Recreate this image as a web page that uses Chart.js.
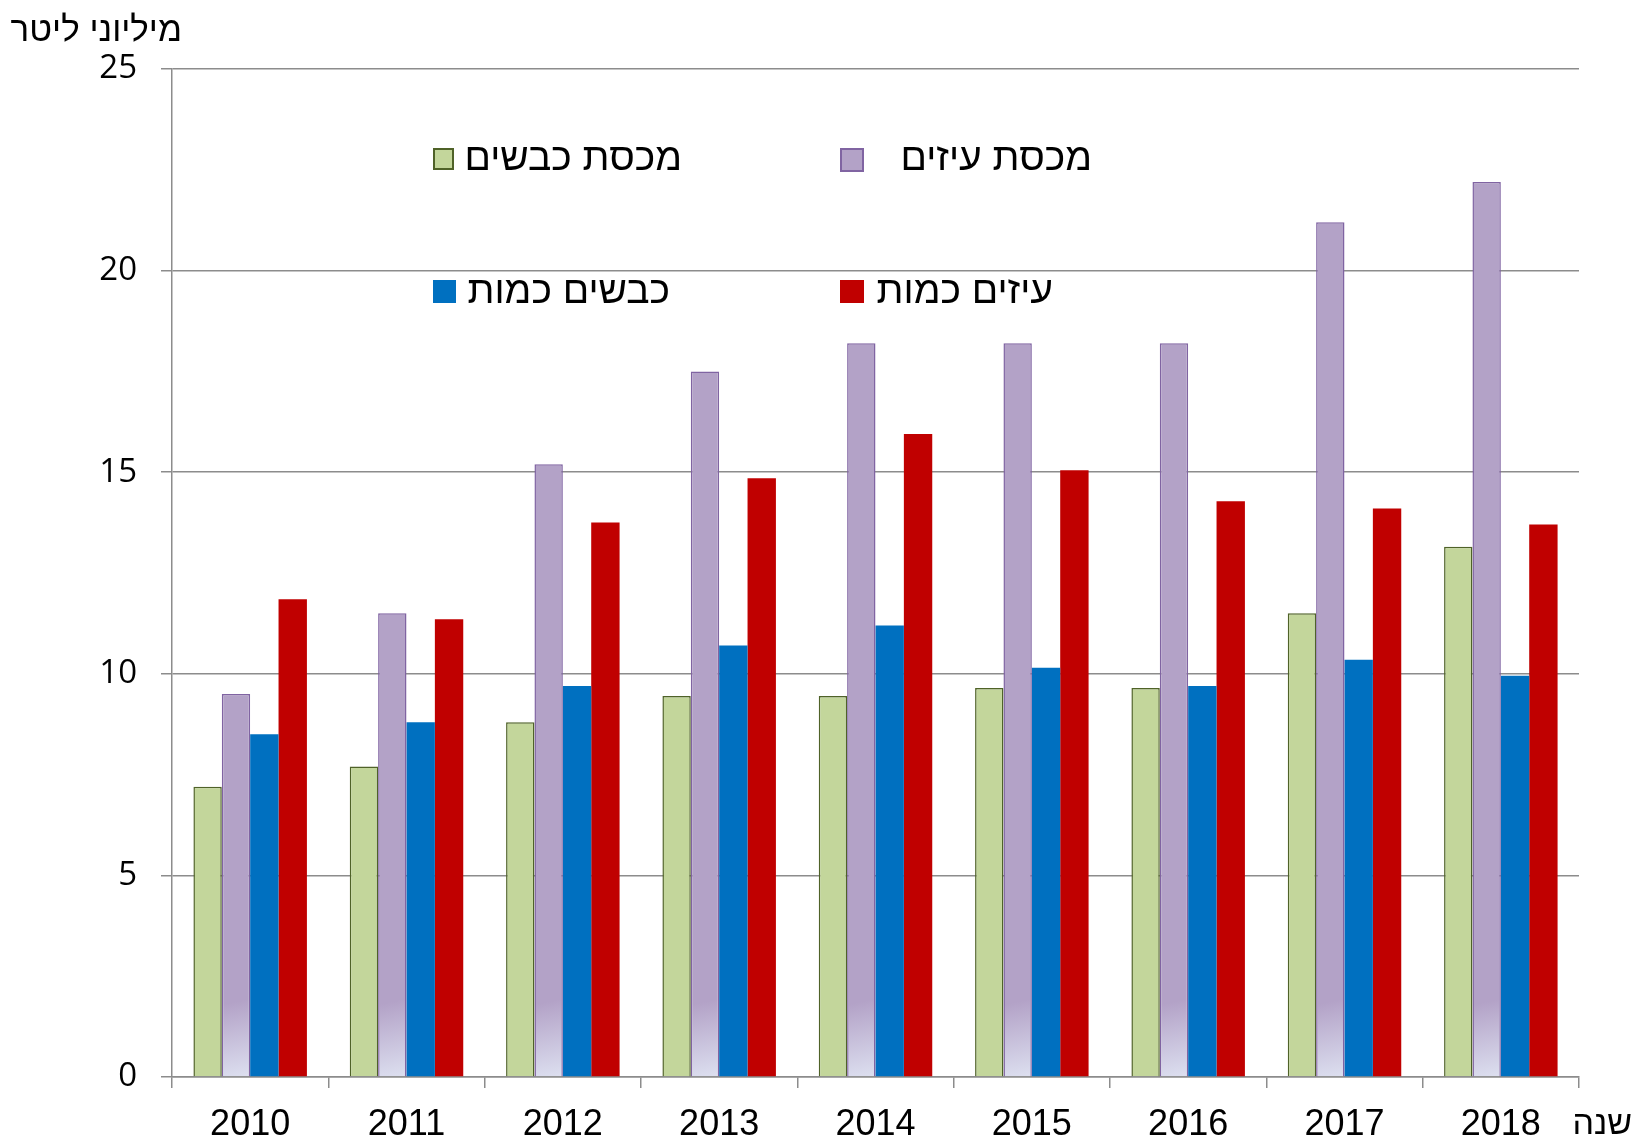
<!DOCTYPE html>
<html lang="he">
<head>
<meta charset="utf-8">
<script src="https://cdn.jsdelivr.net/npm/chart.js@4.4.1/dist/chart.umd.min.js"></script>
<style>
  html, body { margin: 0; padding: 0; background: #fff; }
  #wrap { position: relative; width: 1639px; height: 1138px; font-family: "Liberation Sans", Arial, sans-serif; color: #000; }
  canvas { position: absolute; left: 0; top: 0; }
  .txt { position: absolute; white-space: nowrap; font-size: 39px; line-height: 1; direction: rtl; }
  .box { position: absolute; box-sizing: border-box; }
</style>
</head>
<body>
<div id="wrap">
  <canvas id="chart" width="1639" height="1138"></canvas>
  <div class="txt" style="right:1457px; top:11px; font-size:35px;">מיליוני ליטר</div>
  <div class="txt" style="right:7px; top:1105px; font-size:34px;">שנה</div>
  <div id="legend"></div>
</div>
<script>
  const years = ['2010', '2011', '2012', '2013', '2014', '2015', '2016', '2017', '2018'];
  const seriesNames = ['מכסת כבשים', 'מכסת עיזים', 'כבשים כמות', 'עיזים כמות'];
  const sheepQuota = [7.2, 7.7, 8.8, 9.45, 9.45, 9.65, 9.65, 11.5, 13.15];
  const goatQuota = [9.5, 11.5, 15.2, 17.5, 18.2, 18.2, 18.2, 21.2, 22.2];
  const sheepAmount = [8.5, 8.8, 9.7, 10.7, 11.2, 10.15, 9.7, 10.35, 9.95];
  const goatAmount = [11.85, 11.35, 13.75, 14.85, 15.95, 15.05, 14.28, 14.1, 13.7];
  const yTicks = [0, 5, 10, 15, 20, 25];

  const GRID = '#8c8c8c';
  const PURPLE = '#b3a2c7';

  // purple bars fade to a pale lilac toward their bottom-right corner
  const purpleFill = (ctx) => {
    const chart = ctx.chart;
    const area = chart.chartArea;
    const x = chart.scales.x;
    if (!area || !x || ctx.dataIndex === undefined) return PURPLE;
    const center = x.getPixelForValue(ctx.dataIndex);
    const g = chart.ctx.createLinearGradient(center - 30, area.bottom - 150, center, area.bottom);
    g.addColorStop(0, PURPLE);
    g.addColorStop(0.5, PURPLE);
    g.addColorStop(1, '#dde0f0');
    return g;
  };

  const legendItems = [
    { box: { left: 433, top: 148, w: 21, h: 22, bg: '#c3d69b', border: '#4f6228' }, right: 957, top: 137 },
    { box: { left: 840, top: 148, w: 24, h: 24, bg: PURPLE, border: '#8064a2' }, right: 547, top: 137 },
    { box: { left: 433, top: 280, w: 23, h: 23, bg: '#0070c0', border: '#0070c0' }, right: 969, top: 270 },
    { box: { left: 840, top: 280, w: 24, h: 23, bg: '#c00000', border: '#c00000' }, right: 586, top: 270 },
  ];
  const legend = document.getElementById('legend');
  legendItems.forEach((item, i) => {
    const box = document.createElement('div');
    box.className = 'box';
    box.style.left = item.box.left + 'px';
    box.style.top = item.box.top + 'px';
    box.style.width = item.box.w + 'px';
    box.style.height = item.box.h + 'px';
    box.style.background = item.box.bg;
    box.style.border = '2px solid ' + item.box.border;
    legend.appendChild(box);
    const label = document.createElement('div');
    label.className = 'txt';
    label.style.right = item.right + 'px';
    label.style.top = item.top + 'px';
    label.textContent = seriesNames[i];
    legend.appendChild(label);
  });

  new Chart(document.getElementById('chart'), {
    type: 'bar',
    data: {
      labels: years,
      datasets: [
        { label: seriesNames[0], data: sheepQuota, backgroundColor: '#c3d69b', borderColor: '#4f6228', borderWidth: 1.5 },
        { label: seriesNames[1], data: goatQuota, backgroundColor: purpleFill, borderColor: '#8064a2', borderWidth: 1.5 },
        { label: seriesNames[2], data: sheepAmount, backgroundColor: '#0070c0', borderWidth: 0 },
        { label: seriesNames[3], data: goatAmount, backgroundColor: '#c00000', borderWidth: 0 },
      ],
    },
    options: {
      responsive: false,
      animation: false,
      devicePixelRatio: 1,
      datasets: { bar: { categoryPercentage: 0.726, barPercentage: 1 } },
      layout: { padding: { top: 69, right: 60, bottom: 0, left: 0 } },
      plugins: { legend: { display: false }, tooltip: { enabled: false } },
      scales: {
        x: {
          offset: true,
          grid: { offset: true, drawOnChartArea: false, drawTicks: true, tickLength: 11, color: GRID, lineWidth: 1.5 },
          border: { color: GRID, width: 1.5 },
          ticks: { color: '#000', padding: 15, maxRotation: 0, font: { family: 'Liberation Sans', size: 36 } },
          afterFit: (scale) => { scale.height = 61; },
        },
        y: {
          min: 0,
          max: 25,
          afterBuildTicks: (scale) => { scale.ticks = yTicks.map((v) => ({ value: v })); },
          grid: { color: GRID, lineWidth: 1.5, tickLength: 11 },
          border: { color: GRID, width: 1.5 },
          ticks: { color: '#000', padding: 24, font: { family: 'Open Sans', size: 33 } },
          afterFit: (scale) => { scale.width = 172; },
        },
      },
    },
  });
</script>
</body>
</html>
